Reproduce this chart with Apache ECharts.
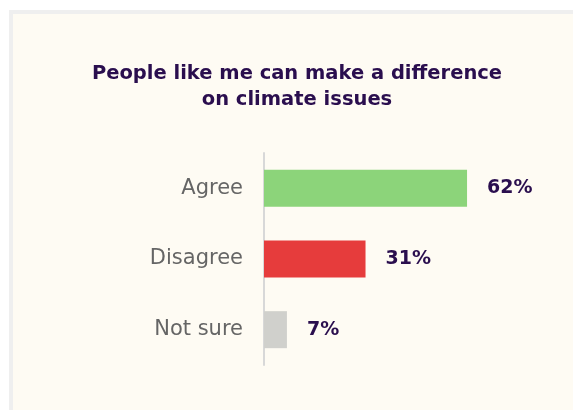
<!DOCTYPE html>
<html>
<head>
<meta charset="utf-8">
<script src="https://cdn.jsdelivr.net/npm/echarts@6/dist/echarts.min.js"></script>
<style>
html,body{margin:0;padding:0;background:#ffffff;}
#chart{width:573px;height:410px;}
</style>
</head>
<body>
<div id="chart"></div>
<script>
const titleText = "People like me can make a difference\non climate issues";
const categories = ["Agree", "Disagree", "Not sure"];
const values = [62, 31, 7];
const barColors = ["#8cd47a", "#e63c3c", "#d0d0cc"];

const chart = echarts.init(document.getElementById('chart'), null, {renderer: 'canvas'});
chart.setOption({
  backgroundColor: '#ffffff',
  animation: false,
  graphic: [
    {type: 'rect', shape: {x: 9, y: 10, width: 564, height: 400}, style: {fill: '#efefef'}, z: -10},
    {type: 'rect', shape: {x: 13, y: 14, width: 560, height: 396}, style: {fill: '#fefbf3'}, z: -9}
  ],
  title: {
    text: titleText,
    left: 292, top: 56, textAlign: 'center',
    textStyle: {fontFamily: 'DejaVu Sans', fontWeight: 700, fontSize: 19.5, color: '#2a0e4e', lineHeight: 26}
  },
  grid: {left: 264, top: 153, bottom: 45, right: 47},
  xAxis: {
    type: 'value', min: 0, max: 80,
    show: false
  },
  yAxis: {
    type: 'category', data: categories, inverse: true,
    axisLine: {show: true, lineStyle: {color: '#d8d8d8', width: 2}},
    axisTick: {show: false},
    axisLabel: {fontFamily: 'DejaVu Sans', fontWeight: 'normal', fontSize: 21, color: '#656565', margin: 21}
  },
  series: [{
    type: 'bar',
    barWidth: 37,
    data: values.map((v, i) => ({value: v, itemStyle: {color: barColors[i]}})),
    label: {
      show: true, position: 'right', distance: 20,
      formatter: p => p.value + '%',
      fontFamily: 'DejaVu Sans', fontWeight: 700, fontSize: 19, color: '#2a0e4e'
    }
  }]
});
</script>
</body>
</html>
